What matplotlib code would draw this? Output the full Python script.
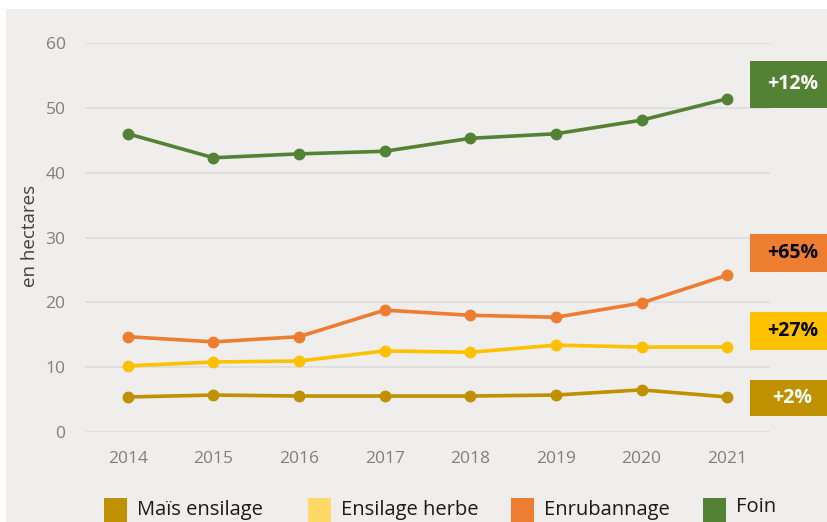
import matplotlib

matplotlib.use("Agg")
import matplotlib.pyplot as plt
from matplotlib.patches import Rectangle

plt.rcParams["font.family"] = ["Open Sans", "DejaVu Sans"]

years = [2014, 2015, 2016, 2017, 2018, 2019, 2020, 2021]
mais_ensilage = [5.4, 5.7, 5.55, 5.55, 5.55, 5.7, 6.5, 5.4]
ensilage_herbe = [10.2, 10.8, 10.95, 12.5, 12.3, 13.4, 13.1, 13.1]
enrubannage = [14.7, 13.9, 14.7, 18.8, 18.0, 17.7, 19.9, 24.2]
foin = [46.0, 42.3, 42.9, 43.3, 45.3, 46.0, 48.1, 51.4]

series_names = ["Maïs ensilage", "Ensilage herbe", "Enrubannage", "Foin"]
series_values = [mais_ensilage, ensilage_herbe, enrubannage, foin]
line_colors = ["#BF9000", "#FFC000", "#ED7D31", "#548235"]
legend_colors = ["#BF9000", "#FFD966", "#ED7D31", "#548235"]

changes = ["+2%", "+27%", "+65%", "+12%"]
change_text_colors = ["white", "black", "black", "white"]
# box extents (data y) for the change labels
box_bottoms = [2.5, 12.6, 24.7, 50.0]
box_heights = [5.5, 5.9, 5.8, 7.2]

bg = "#EFEEED"
W, H = 827, 522
fig = plt.figure(figsize=(W / 100, H / 100), dpi=100)
fig.patch.set_facecolor("white")
fig.patches.append(Rectangle((6 / W, 0), 1, 1 - 9 / H, transform=fig.transFigure,
                             facecolor=bg, edgecolor="none", zorder=-10))

ax = fig.add_axes([85 / W, 1 - 432 / H, 685 / W, 389 / H])
ax.set_facecolor(bg)
ax.set_xlim(2013.5, 2021.5)
ax.set_ylim(0, 60)
ax.set_yticks(range(0, 61, 10))
ax.set_xticks(years)
ax.grid(axis="y", color="#DDDDDD", linewidth=1.2)
ax.set_axisbelow(True)
for s in ax.spines.values():
    s.set_visible(False)
ax.tick_params(length=0, labelsize=12.5, labelcolor="#7F7F7F")
ax.tick_params(axis="x", pad=14)
ax.tick_params(axis="y", pad=14)
ax.set_ylabel("en hectares", fontsize=13.5, color="#404040")
ax.yaxis.set_label_coords(-0.067, 0.504)

for vals, color in zip(series_values, line_colors):
    ax.plot(years, vals, color=color, linewidth=2.6, marker="o", markersize=7.5,
            solid_capstyle="round")

for bottom, height, txt, tcolor, color in zip(box_bottoms, box_heights, changes,
                                              change_text_colors, line_colors):
    ax.add_patch(Rectangle((2021.27, bottom), 1.2, height, facecolor=color,
                           edgecolor="none", clip_on=False))
    ax.text(2021.76, bottom + height / 2, txt, ha="center", va="center",
            fontsize=14, fontweight="bold", color=tcolor, clip_on=False)

# legend along the bottom edge
leg_x = [104, 308, 511, 703]
for x, name, color in zip(leg_x, series_names, legend_colors):
    y_top = 498
    fig.patches.append(Rectangle((x / W, 0), 23 / W, 1 - y_top / H,
                                 transform=fig.transFigure, facecolor=color,
                                 edgecolor="none"))
    ty = 507 if name == "Foin" else 510
    fig.text((x + 33) / W, 1 - ty / H, name, ha="left", va="center",
             fontsize=14.5, color="#1A1A1A")

fig.savefig("out.png", dpi=100, facecolor=fig.get_facecolor())
